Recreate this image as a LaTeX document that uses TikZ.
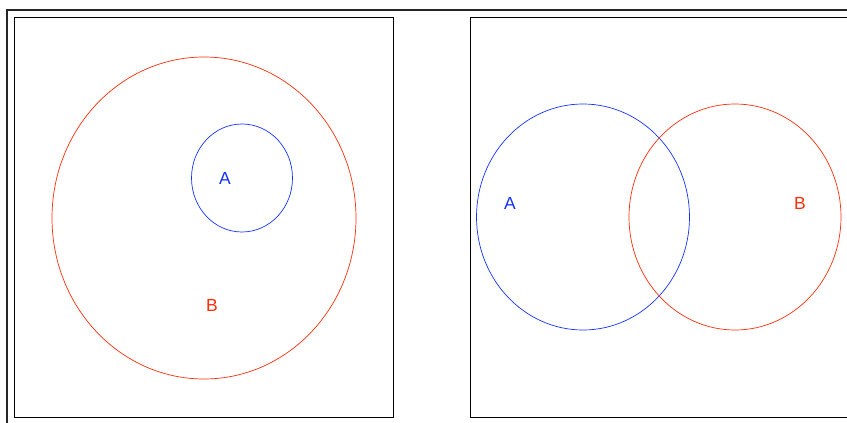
\documentclass[tikz,border=0pt]{standalone}
\usepackage{fontspec}
\setmainfont{Liberation Sans}
\usetikzlibrary{positioning}
\definecolor{setred}{RGB}{255,45,10}
\definecolor{setblue}{RGB}{20,50,255}

\begin{document}
\begin{tikzpicture}[x=1pt, y=-1pt, thin]
    \tikzset{
        frame/.style={draw, black!85, line width=1.3pt},
        panel/.style={draw, black, line width=0.8pt},
        setA/.style={draw, setblue, line width=0.7pt},
        setB/.style={draw, setred, line width=0.7pt},
        lblA/.style={text=setblue, font=\fontsize{17.5}{17.5}\selectfont, inner sep=0pt},
        lblB/.style={text=setred, font=\fontsize{17.5}{17.5}\selectfont, inner sep=0pt}
    }
    \useasboundingbox (0,0) rectangle (847,423);
    % outer frame
    \coordinate (fbl) at (7,423);
    \coordinate (ftl) at (7,10);
    \coordinate (ftr) at (847,10);
    \draw [frame] (fbl) -- (ftl) -- (ftr);
    % panels
    \draw [panel] (14,17) rectangle (393,417);
    \draw [panel] (847,17) -- (470,17) -- (470,417) -- (847,417);

    % left: A inside B
    \draw [setB] (204,218) ellipse [x radius=152, y radius=161];
    \draw [setA] (242,178) ellipse [x radius=50.5, y radius=54];
    \node [lblA] (a1) at (225,178) {A};
    \node [lblB] (b1) at (212,305) {B};

    % right: A and B overlapping
    \draw [setA] (583,217) ellipse [x radius=106.5, y radius=113];
    \draw [setB] (735,217) ellipse [x radius=106, y radius=113];
    \node [lblA] (a2) at (510,203) {A};
    \node [lblB] (b2) at (800,203) {B};
\end{tikzpicture}
\end{document}
